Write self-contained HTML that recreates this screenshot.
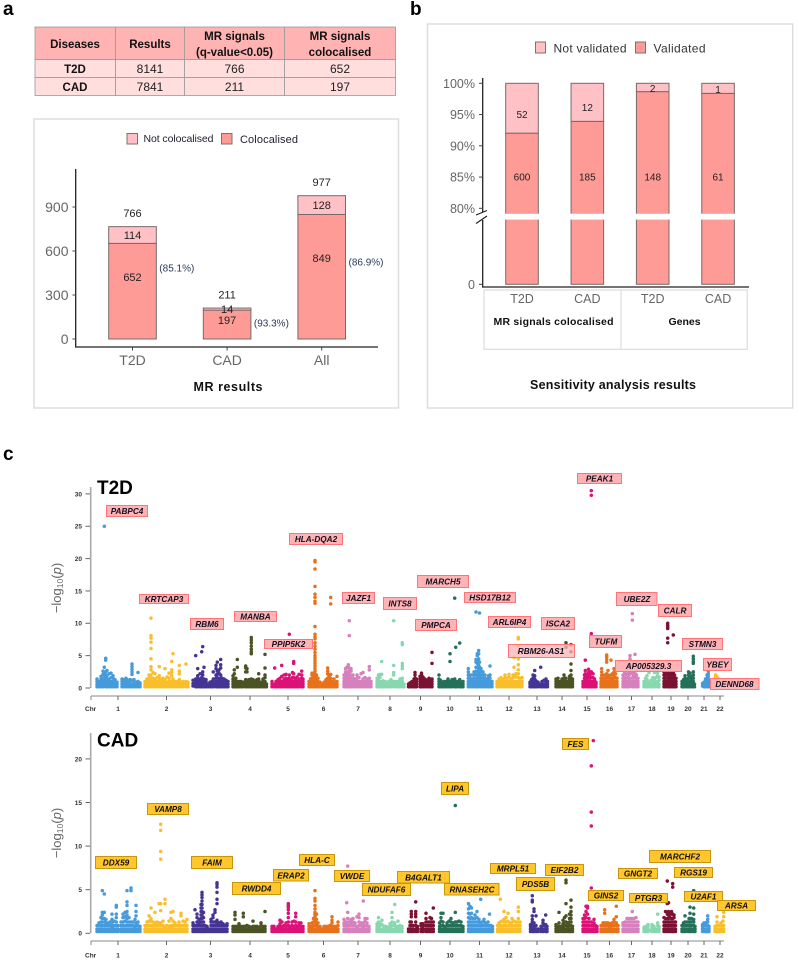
<!DOCTYPE html>
<html lang="en"><head><meta charset="utf-8"><title>MR colocalisation figure</title>
<style>
html,body{margin:0;padding:0;background:#fff}
svg{display:block;font-family:"Liberation Sans",sans-serif}
.panel{fill:#fff;stroke:#ddd;stroke-width:1.5}
.hd{fill:#ffb3b3;stroke:#999;stroke-width:.8}
.rw{fill:#ffdedd;stroke:#999;stroke-width:.8}
.tb{font-size:11.5px;font-weight:bold;fill:#111;text-anchor:middle}
.tv{font-size:12px;fill:#222;text-anchor:middle}
.pl{font-size:19px;font-weight:bold;fill:#000}
.leg{font-size:12px;fill:#333}
.ttl{font-weight:bold;fill:#111;text-anchor:middle}
.sw1{fill:#ffc1c6;stroke:#776;stroke-width:1}
.sw2{fill:#ff9b97;stroke:#776;stroke-width:1}
.t g text,.c g text{font-size:8.2px;font-weight:bold;font-style:italic;fill:#101020;text-anchor:middle}
.t rect{fill:#ffb3b5;stroke:#ff7479;stroke-width:1}
.c rect{fill:#ffc62e;stroke:#c8960a;stroke-width:1}
.hdg{font-size:19px;font-weight:bold;fill:#000}
.yt{font-size:13px;fill:#666}
.mk{font-size:6.5px;font-weight:bold;fill:#333}
</style></head><body>
<svg id="fig" xmlns="http://www.w3.org/2000/svg" width="799" height="964" viewBox="0 0 799 964">
<rect width="799" height="964" fill="#fff"/>
<text class="pl" x="3" y="15">a</text>
<text class="pl" x="410" y="15">b</text>
<text class="pl" x="3" y="460">c</text>

<g>
<rect class="hd" x="35" y="27" width="80.5" height="32.5"/><rect class="hd" x="115.5" y="27" width="69" height="32.5"/><rect class="hd" x="184.5" y="27" width="100" height="32.5"/><rect class="hd" x="284.5" y="27" width="111" height="32.5"/>
<rect class="rw" x="35" y="59.5" width="80.5" height="18"/><rect class="rw" x="115.5" y="59.5" width="69" height="18"/><rect class="rw" x="184.5" y="59.5" width="100" height="18"/><rect class="rw" x="284.5" y="59.5" width="111" height="18"/>
<rect class="rw" x="35" y="77.5" width="80.5" height="18"/><rect class="rw" x="115.5" y="77.5" width="69" height="18"/><rect class="rw" x="184.5" y="77.5" width="100" height="18"/><rect class="rw" x="284.5" y="77.5" width="111" height="18"/>
<text class="tb" x="75" y="48">Diseases</text>
<text class="tb" x="150" y="48">Results</text>
<text class="tb" x="234.5" y="40">MR signals</text>
<text class="tb" x="234.5" y="56">(q-value&lt;0.05)</text>
<text class="tb" x="340" y="40">MR signals</text>
<text class="tb" x="340" y="56">colocalised</text>
<text class="tb" x="75" y="73">T2D</text><text class="tv" x="150" y="73">8141</text><text class="tv" x="234.5" y="73">766</text><text class="tv" x="340" y="73">652</text>
<text class="tb" x="75" y="91">CAD</text><text class="tv" x="150" y="91">7841</text><text class="tv" x="234.5" y="91">211</text><text class="tv" x="340" y="91">197</text>
</g>

<rect class="panel" x="34" y="119" width="364.5" height="289"/>
<g>
<rect class="sw1" x="127" y="133.5" width="10.5" height="10.5"/>
<text x="143.5" y="142" font-size="10.5" fill="#223" textLength="70">Not colocalised</text>
<rect class="sw2" x="221.5" y="133.5" width="10.5" height="10.5"/>
<text x="240" y="143" font-size="11" fill="#223" textLength="58">Colocalised</text>
</g>
<g id="chartA"></g>
<text class="ttl" x="228" y="391" font-size="12.5" textLength="69">MR results</text>

<rect class="panel" x="427.5" y="24" width="365.2" height="384"/>
<g>
<rect class="sw1" x="535.5" y="42" width="10" height="11"/>
<text class="leg" x="553.5" y="52.5" textLength="73">Not validated</text>
<rect class="sw2" x="635.5" y="42" width="10" height="11"/>
<text class="leg" x="653.5" y="52.5" textLength="52">Validated</text>
</g>
<g id="chartB"></g>
<g fill="none" stroke="#ddd" stroke-width="1.2">
<rect x="484" y="290" width="263.3" height="59.3"/><line x1="621" y1="290" x2="621" y2="349.3"/></g>
<text class="ttl" x="553.5" y="325" font-size="10.5" textLength="120">MR signals colocalised</text>
<text class="ttl" x="684.5" y="325" font-size="10.5">Genes</text>
<text class="ttl" x="613" y="389" font-size="12.5" textLength="166">Sensitivity analysis results</text>

<g id="manhattanT2D"></g>
<g id="manhattanCAD"></g>
<text class="hdg" x="97" y="494">T2D</text>
<text class="hdg" x="97" y="746.5">CAD</text>
<text class="yt" transform="translate(61,588) rotate(-90)" text-anchor="middle">−log<tspan font-size="8.5" dy="2">10</tspan><tspan dy="-2">(</tspan><tspan font-style="italic">p</tspan>)</text>
<text class="yt" transform="translate(61,833) rotate(-90)" text-anchor="middle">−log<tspan font-size="8.5" dy="2">10</tspan><tspan dy="-2">(</tspan><tspan font-style="italic">p</tspan>)</text>

<g class="t">
<g><rect x="106.5" y="505.5" width="41" height="11"/><text x="127" y="514">PABPC4</text></g>
<g><rect x="139.5" y="594.5" width="49" height="9"/><text x="164" y="602">KRTCAP3</text></g>
<g><rect x="190.5" y="618.5" width="33" height="11"/><text x="207" y="627">RBM6</text></g>
<g><rect x="234.5" y="611.5" width="42" height="10"/><text x="255.5" y="619.5">MANBA</text></g>
<g><rect x="264.5" y="639.5" width="48" height="9"/><text x="288.5" y="647">PPIP5K2</text></g>
<g><rect x="289.5" y="533.5" width="53" height="11"/><text x="316" y="542">HLA-DQA2</text></g>
<g><rect x="342.5" y="592.5" width="32" height="11"/><text x="358.5" y="601">JAZF1</text></g>
<g><rect x="383.5" y="597.5" width="33" height="12"/><text x="400" y="606.5">INTS8</text></g>
<g><rect x="417.5" y="575.5" width="51" height="12"/><text x="443" y="584.5">MARCH5</text></g>
<g><rect x="415.5" y="619.5" width="41" height="11"/><text x="436" y="628">PMPCA</text></g>
<g><rect x="464.5" y="592.5" width="51" height="10"/><text x="490" y="600.5">HSD17B12</text></g>
<g><rect x="488.5" y="616.5" width="42" height="11"/><text x="509.5" y="625">ARL6IP4</text></g>
<g><rect x="508.5" y="644.5" width="66" height="13" fill-opacity=".75"/><text x="541" y="654">RBM26-AS1</text></g>
<g><rect x="541.5" y="617.5" width="33" height="12"/><text x="558" y="626.5">ISCA2</text></g>
<g><rect x="577.5" y="473.5" width="44" height="10"/><text x="599.5" y="481.5">PEAK1</text></g>
<g><rect x="589.5" y="635.5" width="32" height="12"/><text x="606" y="644.5">TUFM</text></g>
<g><rect x="616.5" y="592.5" width="40.5" height="13"/><text x="637" y="602">UBE2Z</text></g>
<g><rect x="658.5" y="604.5" width="33" height="12"/><text x="675" y="613.5">CALR</text></g>
<g><rect x="615.5" y="660.5" width="66" height="11"/><text x="648.5" y="669">AP005329.3</text></g>
<g><rect x="682.5" y="638.5" width="40" height="11"/><text x="702.5" y="647">STMN3</text></g>
<g><rect x="703.5" y="658.5" width="28" height="12"/><text x="717.5" y="667.5">YBEY</text></g>
<g><rect x="710.5" y="678.5" width="48.5" height="11"/><text x="734.5" y="687">DENND68</text></g>
</g>
<g class="c">
<g><rect x="95.5" y="856.5" width="41" height="12"/><text x="116" y="865.5">DDX59</text></g>
<g><rect x="147.5" y="803.5" width="41" height="11"/><text x="168" y="812">VAMP8</text></g>
<g><rect x="191.5" y="856.5" width="41" height="12"/><text x="212" y="865.5">FAIM</text></g>
<g><rect x="232.5" y="882.5" width="48" height="12"/><text x="256.5" y="891.5">RWDD4</text></g>
<g><rect x="273.5" y="869.5" width="35" height="11.5"/><text x="291" y="878.5">ERAP2</text></g>
<g><rect x="299.5" y="854.5" width="35" height="11"/><text x="317" y="863">HLA-C</text></g>
<g><rect x="334.5" y="870.5" width="35" height="11"/><text x="352" y="879">VWDE</text></g>
<g><rect x="362.5" y="883.5" width="48" height="12"/><text x="386.5" y="892.5">NDUFAF6</text></g>
<g><rect x="397.5" y="871.5" width="52" height="11.5"/><text x="423.5" y="880.5">B4GALT1</text></g>
<g><rect x="441.5" y="782.5" width="27" height="12"/><text x="455" y="791.5">LIPA</text></g>
<g><rect x="444.5" y="883.5" width="54.5" height="11.5"/><text x="472" y="892.5">RNASEH2C</text></g>
<g><rect x="490.5" y="863.5" width="45" height="10"/><text x="513" y="871.5">MRPL51</text></g>
<g><rect x="516.5" y="877.5" width="38" height="13"/><text x="535.5" y="887">PDS5B</text></g>
<g><rect x="545.5" y="864.5" width="38" height="11"/><text x="564.5" y="873">EIF2B2</text></g>
<g><rect x="562.5" y="738.5" width="26" height="11"/><text x="575.5" y="747">FES</text></g>
<g><rect x="588.5" y="890.5" width="35" height="10"/><text x="606" y="898.5">GINS2</text></g>
<g><rect x="618.5" y="868.5" width="39" height="10"/><text x="638" y="876.5">GNGT2</text></g>
<g><rect x="629.5" y="893.5" width="38" height="9"/><text x="648.5" y="901">PTGR3</text></g>
<g><rect x="649.5" y="850.5" width="61" height="12"/><text x="680" y="859.5">MARCHF2</text></g>
<g><rect x="674.5" y="867.5" width="38" height="10"/><text x="693.5" y="875.5">RGS19</text></g>
<g><rect x="684.5" y="891.5" width="38" height="10"/><text x="703.5" y="899.5">U2AF1</text></g>
<g><rect x="717.5" y="900.5" width="38" height="10"/><text x="736.5" y="908.5">ARSA</text></g>
</g>
</svg>
<script>
// ---------- Chart A data ----------
const aCategories = ['T2D','CAD','All'];
const aColocalised = [652,197,849];
const aNotColocalised = [114,14,128];
const aPercent = ['(85.1%)','(93.3%)','(86.9%)'];
const aTicks = [0,300,600,900];
// ---------- Chart B data ----------
const bCategories = ['T2D','CAD','T2D','CAD'];
const bValidated = [600,185,148,61];
const bNotValidated = [52,12,2,1];
const bTicksPct = [80,85,90,95,100];
// ---------- Manhattan shared ----------
const chrNames = ['1','2','3','4','5','6','7','8','9','10','11','12','13','14','15','16','17','18','19','20','21','22'];
const chrSpans = [49,48,40,39,37,35,33,31,31,29,29,33,26,27,18,22,21,20,18,20,13,12];
const chrMid = [22,21.5,17.5,17,16,14.5,14,13,12.5,11,11.5,12,7,6,4,8.5,8.5,8,7,6,2,5];
const chrColors = ['#459bdc','#f9bf2b','#453494','#4b5224','#dc1177','#e8711b','#d680bd','#87d8ae','#7b1233','#247059','#459bdc','#f9bf2b','#453494','#4b5224','#dc1177','#e8711b','#d680bd','#87d8ae','#7b1233','#247059','#459bdc','#f9bf2b'];
const t2dTicks = [0,5,10,15,20,25,30];
const cadTicks = [0,5,10,15,20];
// Each column: [position within chromosome, -log10(p) values...]
const t2dChr1 = [[1,.2,.6,1,1.4],[3,.2,.6,1],[5,.2,.6,1,1.4,1.8],[7,.2,.6,1,1.5,2.1,2.6],[8.3,.3,.7,1.1,1.6,2.2,3.2,25],[9.7,.2,.6,1,1.5,2,2.5,4.3,4.6],[11,.2,.6,1,1.4,1.9,2.7],[13,.2,.6,1,1.4,2.2],[15,.2,.6,1,1.6,2.3],[17,.2,.6,1,1.5,1.9],[19,.2,.6,1,1.3],[21,.2,.6,.9],[26,.2,.6,1,1.4],[28,.2,.6,1,1.3],[30,.2,.6,1.1,1.5],[32,.2,.6,1,1.2],[34,.2,.6,1,1.3],[36,.2,.6,1.2,2.1,2.5,2.9,3.3,3.7],[38,.2,.6,1,1.3],[40,.2,.6,.9],[42,.2,.6,1,2.4],[44,.2,.5,.8]];
const t2dChr2 = [[0,.2,.6,1],[2,.2,.6,1,1.4],[4,.2,.6,1,1.5,2],[6,.2,.6,1,1.5,2,2.8,3.3,4.5,6.1,7.1,7.7,8.1,10.8],[8,.2,.6,1,1.5,2.4],[10,.2,.6,1,1.4,2.2],[12,.2,.6,1,1.6],[14.3,.2,.6,1,1.4,1.9,3.3],[16,.2,.6,1,1.4],[18,.2,.6,1,1.5],[20,.2,.6,1,1.3,3],[22,.2,.6,.9,1.7],[24,.2,.6,1,1.5,2.3],[26.7,.2,.6,1,1.9,2.4,2.8,4.1],[28,.2,.6,1,1.4,5.3],[30,.2,.6,1],[32,.2,.6,1],[34.3,.2,.6,1,1.3,2.2,2.6,3.5],[36,.2,.6,.9],[38,.2,.6,1],[41,.2,.6,1,3.7],[43,.2,.6,.9]];
const t2dChr3 = [[0,.3,.7,1.2],[2.7,.2,.6,1,1.4,5],[4.7,.2,.6,1,1.5,1.9,3],[7,.2,.6,1,1.4,2.2],[8.7,.2,.6,1,1.6,5.6],[9.7,.2,.6,1.1,2,2.5,6.4],[11,.2,.6,1,1.4,3.2],[13,.2,.6,1,1.3],[15,.2,.6],[17,.2,.6,.9],[19,.2,.6,1],[20.3,.2,.6,1,1.4,2.5],[23,.2,.6,1,1.5,2,3,3.5],[24.3,.2,.6,1,1.6,2.1,2.6,4],[26,.2,.6,1,1.4,2.3,2.8],[27.7,.2,.6,1,1.5,2,3.1,3.6,4.4],[29,.2,.6,1,1.5],[31,.2,.6,1,1.4],[33,.2,.6,1,1.2],[35,.2,.6,1]];
const t2dChr4 = [[0,.2,.6,1,1.4,1.9],[1.3,.2,.6,1,1.4,2.2,2.8],[2.8,.2,.6,1,1.5],[4.3,.2,.6,1,3.2,4.4],[6,.2,.6,1],[8,.2,.6,1],[10,.2,.6,.9],[12.7,.2,.6,1,1.3,2.5,3.1,3.4],[14,.2,.6,1,1.2,2.5,3],[16,.2,.6,1,1.3],[18.3,.2,.6,1,1.4,5.3,5.6,6,6.5,7,7.4,7.8],[20,.2,.6,1,1.3],[22,.2,.6,1,1.1],[24,.2,.6,1,1.3],[25.7,.2,.6,1,1.4,2.2],[28,.2,.6,.9],[30,.2,.6,1,1.4],[32,.2,.6,1,1.6,2,3.1,5.2],[33.5,.2,.6]];
const t2dChr5 = [[0,.2,.6,1],[2.7,.2,.6,3.1],[4,.2,.6,1],[6,.2,.6,1,1.3],[8,.2,.6,1,1.5],[9.7,.2,.6,1,1.8,3.5],[12,.2,.6,1,1.4,2],[14,.2,.6,1,1.5,2.1],[15.5,.2,.6,1,1.4],[17.3,.2,.6,1,1.5,2,8.3],[19,.2,.6,1,1.3],[20.5,.2,.6,1,1.6,2.4],[21.7,.2,.6,1,1.6,2.2,3.8,4.1],[23.5,.2,.6,1,1.4],[25,.2,.6,1,1.7],[27,.2,.6,1,1.4,2.1],[29.7,.2,.6,1,1.5,2,2.6],[31,.2,.6,1,1.4]];
const t2dChr6 = [[0,.2,.6,1],[1.5,.2,.6,1,1.4],[3,.2,.6,1,1.5,2,2.3],[4.5,.2,.6,1,1.5,2],[6,.2,.6,1,1.4,1.8,2.2,2.6,3,3.4,3.8,4.2,4.6,5,5.5,6,6.5,7,7.6,7.9,8.3,9.5,13.1,13.4,14,14.5,15.7,18.4,19.5,19.7],[7.5,.2,.6,1,1.5,2],[9,.2,.6,1,1.5],[11,.2,.6,.9],[13,.2,.6],[15,.2,.6,.9],[17,.2,.6,1,1.3],[18.7,.2,.6,1,1.5,2.2,2.6,3.1],[20,.2,.6,1,1.4,1.9],[21.7,.2,.6,1,1.5,2.1,13,14],[23,.2,.6,1],[25,.2,.6,1,1.4],[27,.2,.6,.9],[28,.2,.6,1,1.8]];
const t2dChr7 = [[0,.2,.6,1,1.5,2],[1.5,.2,.6,1,1.5,2,2.5,3],[3,.2,.6,1,1.5,2,2.4,3.2],[4.3,.2,.6,1,1.5,2,2.6,3.2,3.6],[5.3,.2,.6,1,1.5,2,2.5,3.1,8.1,10.4],[7,.2,.6,1,1.5,2,2.6,3],[9,.2,.6,1,1.5,2],[11,.2,.6,1,1.4],[13,.2,.6,1,1.5,2],[15,.2,.6,1,1.6],[17,.2,.6,1,2.2],[19,.2,.6,1,1.4,2.4],[21,.2,.6,1,1.6],[23,.2,.6,1,1.4],[25.3,.2,.6,1,1.5,2.8,3.3],[27,.2,.6,1]];
const t2dChr8 = [[0,.2,.6,1,1.5],[1.5,.2,.6,1,1.5,2],[3,.2,.6,1,1.6,2.1],[4.7,.2,.6,1,2.1,4.1],[6,.2,.6,1.1],[8,.2,.6,1],[10,.2,.6,.9],[12,.2,.6,1],[14,.2,.6,1,1.3],[16.7,.2,.6,1,2,2.4,3.5,10.4],[19,.2,.6,1],[21,.2,.6,1],[23,.2,.6,1,1.4],[25.3,.2,.6,1,1.5,3,3.4,3.8,6.7,7],[27,.2,.6]];
const t2dChr9 = [[.5,.2,.6],[2,.2,.5,.8],[4,.2,.6,1],[6,.2,.6,1,1.4],[7,.2,.6,1,1.5,2,2.4],[8.5,.2,.6,1,1.4],[12,.2,.6,1,1.4,1.8],[13.5,.2,.6,1,1.5,2,2.3],[15,.2,.6,1,1.3,1.7],[17,.2,.6,1,1.4],[19,.2,.6,1,1.2],[21,.2,.6,1,1.5],[23,.2,.6,1,1.3],[24,.2,.6,1,1.4,3.8,5.5]];
const t2dChr10 = [[0,.2,.6,1,1.4,2],[1.5,.2,.6,1,1.2],[3,.2,.6,.9],[5,.2,.6,1],[7,.2,.6,1],[9,.2,.6,1,1.4],[11,.2,.6,1,4.1,5.3],[13,.2,.6,1,1.3],[15.7,.2,.6,1,1.4,13.9],[16.7,.2,.6,1,6.3],[18,.2,.6,1],[20.7,.2,.6,1,1.3,6.95],[22.5,.2,.6,.9],[24,.2,.6,1]];
const t2dChr11 = [[.3,.2,.6,1,1.5,2,2.5,3],[2,.2,.6,1,1.5,2],[4,.2,.6,1,1.4,2],[6,.2,.6,1,1.5,2,2.5],[8,.2,.6,1,1.5,2.1,2.6,3.2,4,4.4,11.75],[9.3,.2,.6,1,1.5,2,2.6,3.2,3.8,4.3,5,5.3],[10.7,.2,.6,1,1.5,2,2.5,3,3.5,4,4.5,5.3,5.8],[11.5,.3,.7,1.2,1.8,2.4,3.2,4,11.6],[13,.2,.6,1,1.5,2,2.6,3],[15,.2,.6,1,1.5,2,2.5],[17,.2,.6,1,1.5,2],[19,.2,.6,1,1.4],[20.5,.2,.6,1,1.5,1.9],[22,.2,.6,1,1.5,2,3.4],[24,.2,.6,1]];
const t2dChr12 = [[0,.2,.6,1],[2,.2,.6,1,1.4],[4,.2,.6,1,1.6],[6,.2,.6,1,1.3],[8,.2,.6,1,1.6,2],[10,.2,.6,1,1.5],[12,.2,.6,1,1.7,2.1],[14,.2,.6,1,1.4],[16,.2,.6,1,1.6,2],[17,.2,.6,1,2,3.2,4.7],[19,.2,.6,1,1.7,2.2],[21.3,.2,.6,1,1.6,2.2,2.8,3.6,4.5,5.5,6.5,7.6,7.8],[23,.2,.6,1,1.5],[25,.2,.6,1,1.6]];
const t2dChr13 = [[0,.2,.6,.9],[1.5,.2,.6,1,1.3],[3,.2,.6,1,1.5,2],[4.7,.2,.6,1,1.4,1.9,2.7],[6,.2,.6,1.1],[8,.2,.6,.9],[10.7,.2,.6,3.2],[12,.2,.6,1],[14,.2,.6,1.2],[16,.2,.6,1,1.4],[17.5,.2,.6,1]];
const t2dChr14 = [[0,.2,.6,1,1.4],[2,.2,.6,1,1.5],[4,.2,.6,1],[6,.2,.6,1,1.4],[8,.2,.6,1,1.5,2],[10,.2,.6,1,1.5,6.3,7],[12,.2,.6,1],[13.5,.2,.6,1,1.4,1.8],[15,.2,.6,1,1.5,2,2.7,3.7,5.6,6.7],[16.5,.2,.6,1,1.4]];
const t2dChr15 = [[0,.2,.6,1],[1.5,.2,.6,1,1.5,2],[2.3,.3,.7,1.2,1.7,2.2,2.7,4.3],[4,.2,.6,1,1.4,2],[5.5,.2,.6,1,1.6,2.4,2.9],[7,.2,.6,1,1.5,2,2.5],[8.3,.2,.6,1,1.6,2.5,7.2,8.4,29.8,30.5],[10,.2,.6,1,1.6,2.2],[11.5,.2,.6,1,1.4],[13,.2,.6,.9]];
const t2dChr16 = [[0,.2,.6,1,1.5],[.7,.2,.6,1,1.5,2,2.5,3],[2.5,.2,.6,1,1.5,2],[4,.2,.6,1,1.4,2],[5.7,.2,.6,1,1.6,2.2,4,4.4,4.8,5.1],[7,.2,.6,1,1.5,2,2.7],[8.5,.2,.6,1,1.6],[10,.2,.6,1,1.4,2,4.3],[11.5,.2,.6,1,1.5,2.2],[13,.2,.6,1,1.5,2,2.5,3],[14.5,.2,.6,1,1.6,2.2],[16,.2,.6,1,1.5]];
const t2dChr17 = [[0,.2,.6,1,1.5,2],[1.5,.2,.6,1,1.5,2,2.5,3],[3,.2,.6,1,1.5,2.1],[4.5,.2,.6,1,1.6,2.2,2.8],[6,.2,.6,1,1.5,2,2.6,3.2],[7,.3,.8,1.4,2.2,3,3.6,4.5,5],[9.3,.2,.6,1,1.6,2.3,2.9,3.5,10.5,11.5],[10.5,.2,.6,1,1.5,2,2.6],[12,.2,.6,1,1.6,2.2,5.2],[13.5,.2,.6,1,1.5,2,2.7],[15,.2,.6,1,1.5]];
const t2dChr18 = [[0,.2,.6,1],[1.5,.2,.6,1,1.5],[3,.2,.6,1.3,1.9],[5,.2,.6,.9,2.4],[7,.2,.6,1.2],[9,.2,.6,1,1.6],[10.5,.2,.7,1.4,2.4],[12,.3,.9,1.6],[13.5,.2,.6,1,1.9,2.4],[15,.2,.6,1.2,1.7]];
const t2dChr19 = [[0,.2,.6,1,1.5,2,2.5,3],[1.5,.2,.6,1,1.5,2,2.5,3.2],[3.7,.2,.6,1,1.5,2,2.5,3,3.5,7,7.7,9.2,9.4,9.7,10],[5,.2,.6,1,1.5,2,2.5,3],[6.5,.2,.6,1,1.5,2,2.5],[8,.2,.6,1,1.5,2,2.5,3],[9.3,.2,.6,1,1.5,2,2.4,8.2],[10.5,.2,.6,1,1.5,2],[12,.2,.6,1,1.5]];
const t2dChr20 = [[0,.2,.6,1],[1.5,.2,.6,1,1.3],[3,.2,.6,1,1.5,1.9],[5,.2,.6,1,1.4],[6.5,.2,.6,1,1.5,2,2.5],[8,.2,.6,1,1.6,2.3],[9.5,.2,.6,1,1.4,1.8],[11.3,.2,.6,1,1.5,2,2.5,3.8,4.1,4.5,4.9],[12.5,.2,.6]];
const t2dChr21 = [[.5,.3,.7],[2,.2,.6,.9],[3.5,.2,.6,1,1.4],[5,.2,.6,1,1.5,2],[6.3,.2,.6,1,1.4,1.8,2.2,2.6,3,3.4,3.8],[7.5,.2,.6,1]];
const t2dChr22 = [[.5,.5,1,1.6,2],[2,.2,.6,1.2,1.7],[4,.2,.6,1,1.4],[6,.2,.6,1],[8,.2,.6,1],[10,.2,.6]];
const cadChr1 = [[1,.2,.5,.9],[3,.2,.5,.9,1.2],[5,.2,.5,.9,1.3,1.8],[6.3,.2,.5,.9,1.3,1.7,2.1,2.4,4.9],[8.3,.2,.5,.9,1.3,1.7,2.4,4.5],[10,.2,.5,.9,1.2,1.6],[12,.2,.5,.9,1.2],[14,.2,.5,.9,1.3],[16,.2,.5,.8,1.2,1.6,2.2],[18,.2,.5,.9,1.4],[20.3,.2,.5,.9,1.3,1.8,2.2,3,3.2],[22,.2,.5,.9],[25,.2,.5,.9,1.3],[27,.2,.5,.9,1.3,1.8,2.2],[29,.2,.5,.9,1.4,1.9,2.4],[31,.2,.5,.9,1.3,1.7,2.1,2.5,3.2,3.6,4.9],[33,.2,.5,.9,1.3,1.8],[35,.2,.5,.9,1.3,4.9,5.2],[37,.2,.5,.9,1.3],[39,.2,.5,.8,1.6],[40,.2,.5,.9,1.2,2,2.5,3.2],[42,.2,.5,.9,1.3],[44,.2,.5,.8]];
const cadChr2 = [[0,.2,.5,.9],[2,.2,.5,.9,1.3],[4,.2,.5,.9,1.4,2],[6,.2,.5,.9,1.4,1.7,2.9],[8,.2,.5,.9,1.3],[10,.2,.5,.9,1.2,2.4],[12,.2,.5,.9,1.3],[14,.2,.5,.9,1.2,3.4],[15.7,.2,.5,.9,1.2,2.6,3.4,8.5,9.4,11.8,12.5],[18,.2,.5,.9,1.4],[20,.2,.5,.8,3.4,3.9],[22,.2,.5,.9],[24,.2,.5,.8,1.4],[26,.2,.5,.9,1.7,2.4],[28,.2,.5,.9,1.4,2.5],[30,.2,.5,.9,1.2],[32,.2,.5,.9],[34,.2,.5,.9,1.3],[36,.2,.5,.9,2,2.3],[38,.2,.5,.9,1.4],[40,.2,.5,.9,1.3],[42,.2,.5,.9,1.6]];
const cadChr3 = [[0,.2,.5,.9,1.2],[2,.2,.5,.9,2.7],[4,.2,.5,.9,1.3,1.8,2.2],[6,.2,.5,.9,1.2,1.6],[8,.2,.5,.9,1.3,1.7,2.1,2.5,2.9,3.3],[9,.2,.5,.9,1.3,1.7,2.1,2.5,2.9,3.3,3.7,4.1,4.4,4.7],[10.5,.2,.5,.9,1.3,1.8,2.4],[12,.2,.5,.9],[14,.2,.5,.8],[16,.2,.5],[18,.2,.5,.9,1.3,1.6],[20,.2,.5,.9,1.3,1.8,2.1],[22,.2,.5,.9,1.3,2.4,2.7],[24,.2,.5,.9,1.2,1.5,3.4,3.9,4.7,5.3,5.6,5.8],[26,.2,.5,.9,1.2],[28,.2,.5,.9,1.3],[30,.2,.5,.9,1.1],[32,.2,.5,.9],[34,.2,.5,.9,1.1]];
const cadChr4 = [[0,.2,.5,.8],[2,.2,.5,.8,1.6,2.1,2.4],[4,.2,.5,.8],[6,.2,.5,.8,1.1],[8,.2,.5,.8],[10.3,.2,.5,.8,1.9,2.3],[12,.2,.5,.8],[14,.2,.5,.9],[16,.2,.5,.8],[18,.2,.5,.7],[20,.2,.5,.8,1.4],[22,.2,.5,.8],[24,.2,.5,.8],[26,.2,.5,.7],[28,.2,.5,.9,1.2],[30,.2,.5,.8],[32,.2,.5,.8,2.5]];
const cadChr5 = [[0,.2,.5,.8],[2,.2,.5,.8],[4,.2,.5],[6,.2,.5,.8],[8,.2,.5,.8,1.1,1.5],[10,.2,.5,.8,1.3],[12,.2,.5,.9],[14,.2,.5,.8,1.2],[16.3,.2,.5,.9,1.3,1.8,2.3,2.7,3,3.2,3.4],[18,.2,.5,.8],[20,.2,.5,.9,1.3],[22,.2,.5,.8,1.4],[23.7,.2,.5,.9,1.3,1.9,2.3],[25.5,.2,.5,.8],[27,.2,.5,.9,1.2],[29,.2,.5,.8,1.2],[31,.2,.5,.8]];
const cadChr6 = [[0,.2,.5,.8,1.1],[1.5,.2,.5,.8],[3,.2,.5,.8,1.2],[4.5,.2,.5,.9,1.3,1.7],[6,.2,.5,.9,1.3,1.6,1.9,2.2,2.4,2.8,3.2,3.7,4,4.9],[7.5,.2,.5,.9,1.2,1.6,2.2],[9,.2,.5,.8,1.2],[11,.2,.5,.8],[13,.2,.5],[15,.2,.5,.8],[17,.2,.5,.8],[19,.2,.5,.8],[21,.2,.5,.9],[23,.2,.5,.8,1.2,1.5,1.9],[25,.2,.5,.8],[27,.2,.5,.8],[29,.2,.5,.9,1.3]];
const cadChr7 = [[0,.2,.5,.9,1.2,1.6],[1.5,.2,.5,.9,1.3],[2.7,.2,.5,.9,1.2,3.5],[3.7,.2,.5,.9,1.3,1.7,2.4,7.7],[5,.2,.5,.9,1.3],[7,.2,.5,.9,1.2,1.6],[9,.2,.5,.9,1.3,1.7],[11,.2,.5,.9,1.2],[13,.2,.5,.8,1.9],[15,.2,.5,.9,1.3,1.8,2.2],[17,.2,.5,.9,1.2],[19.3,.2,.5,.8,1.2,3.7],[21,.2,.5,.9,1.4,1.7],[23,.2,.5,.9,1.2,1.7],[25,.2,.5,.8]];
const cadChr8 = [[0,.2,.5,.8,1.1],[1.5,.2,.5,.8,1.3,1.8],[3,.2,.5,.9,1.2],[5,.2,.5,1,1.5],[7,.2,.5,.8],[9,.2,.5,.8],[11,.2,.5,.7],[13,.2,.5,.8,1.1],[15,.2,.5,.9,1.3,1.8,2.4],[17.7,.2,.5,.9,1.2,3.3],[19,.2,.5,.8],[21,.2,.5,.8,1.4],[23,.2,.5,.9],[25,.2,.5,.8]];
const cadChr9 = [[.5,.2,.5],[2,.2,.5,.9,1.3],[3.3,.2,.5,.9,1.3,1.9,2.2,2.5],[5,.2,.5,.9],[7.7,.2,.5,.9,1.3,1.9,2.2,2.5,3.6],[9.5,.2,.5,.8],[13,.2,.5,.9,1.1],[15,.2,.5,.8,1.1],[18,.2,.5,.9,1.3,1.7,2.3],[20,.2,.5,.9,1.3],[22,.2,.5,.9,1.3,1.8],[23.5,.2,.5,.9,1.3,1.7],[25.3,.2,.5,.9,1.3,2.9]];
const cadChr10 = [[.5,.2,.5,.8,1.2],[2,.2,.5,.9,1.4,1.8,2.3],[4,.2,.5,.9,1.3,2.3],[6,.2,.5,.8],[8,.2,.5,.9,1.2],[10,.2,.5,.9,1.4],[12,.2,.5,.9,1.3,1.7],[14,.2,.5,.9,1.2],[16.3,.2,.5,.9,1.3,2.4,14.65],[18,.2,.5,.9,1.3],[20,.2,.5,.9,1.4],[22,.2,.5,.9,1.3],[24,.2,.5,.8]];
const cadChr11 = [[.5,.2,.5,.9,1.3,1.8,2.3,2.8,3.4],[2,.2,.5,.9,1.3,1.7,2.2,3.1],[3.5,.2,.5,.9,1.3,1.8,2.3,2.9],[5,.2,.5,.9,1.3,1.7],[7,.2,.5,.9,1.3,1.7,2.1],[9,.2,.5,.9,1.3,1.8,2.5],[11,.2,.5,.9,1.3,1.6],[12.7,.2,.5,.9,1.2,3.9],[14,.2,.5,.9,1.3],[16,.2,.5,.9,1.3,1.6],[18,.2,.5,.9,1.2],[20,.2,.5,.9,1.3],[21.5,.2,.5,.9,2.2],[23,.2,.5,.9],[24.5,.2,.5,.8]];
const cadChr12 = [[.5,.2,.5,.9],[2,.2,.5,.9,1.2],[3.3,.2,.5,.9,1.3,3.9],[5,.2,.5,.9,1.4],[7,.2,.5,.9,1.3,1.6,2.5],[9,.2,.5,.9,1.3,1.8],[11,.2,.5,.9,1.4,2.3],[13,.2,.5,.9,1.2],[15,.2,.5,.9,1.3,1.7],[17,.2,.5,.9,1.4],[19,.2,.5,.9,1.3],[21.3,.2,.5,.9,1.3,1.7,2.5,3],[23,.2,.5,.9,1.3]];
const cadChr13 = [[.5,.2,.5,.8,1],[2.3,.2,.5,.9,1.3,1.6,2,3.6,3.8,4.3],[4,.2,.5,.8,1.2,2.5,2.8],[6,.2,.5,.9,2],[8,.2,.5],[11,.2,.5,.8],[13,.2,.5,.9,1.2,1.5],[15.7,.2,.5,.8,1,2.1],[17,.2,.5,.8]];
const cadChr14 = [[0,.2,.5,.8,1],[1.5,.2,.5,.8],[3,.2,.5,.8,1.2,2.4],[5,.2,.5,.8],[7,.2,.5,.8,1.1,1.5],[8.5,.2,.5,.9,1.3,1.8],[10,.2,.5,.9,1.3,2,3.4,5.8,6.1],[12,.2,.5,.8,1.2],[13.5,.2,.5,.9,1.3,1.7,2.2],[15,.2,.5,.9,1.3,1.7,2.1,2.5,3,3.8],[16.5,.2,.5,.8]];
const cadChr15 = [[0,.2,.5,.9,1.3,1.7],[1.5,.2,.5,.9,1.3,1.7,2.1],[3,.2,.5,.9,1.3,1.8,2.5,3.1],[4.5,.2,.5,.9,1.3,2.2,2.9,3.1],[6,.2,.5,.9,1.3,1.7],[8.3,.2,.5,.9,1.3,5.2,12.3,13.9,19.2],[10.3,.2,.5,.9,22.1],[11,.2,.5,.9,1.2,1.6],[12.5,.2,.5,.9],[14,.2,.5,.8]];
const cadChr16 = [[0,.2,.5,.9],[2,.2,.5,.9,1.2],[3.7,.2,.5,.9,1.2,2.3,2.7],[5.5,.2,.5,.9,1.2],[7,.2,.5,.9,1.2],[9,.2,.5,.8,1.1],[11,.2,.5,.9,1.2],[13,.2,.5,.9,1.3,1.6],[15.3,.2,.5,.9,1.2,1.9,3.1],[17,.2,.5,.9]];
const cadChr17 = [[0,.2,.5,.9,1.2],[2,.2,.5,.9,1.3],[4,.2,.5,.9,1.3,1.7],[6,.2,.5,.9,1.3,1.7],[7.5,.2,.5,.9,1.3,1.7],[9.3,.2,.5,.9,1.3,1.7,2.5],[11,.2,.5,.9,1.3,1.7],[13,.2,.5,.9,1.3,1.8],[15,.2,.5,.9,1.3]];
const cadChr18 = [[0,.2,.5,.7],[2,.2,.5,.8],[4,.2,.5,.8,1],[6,.3],[8,.2,.5,.7,1],[10,.2,.5,.8],[12,.2,.5],[13.7,.2,.5,.9,1.2,2.2],[15,.2,.5,.8]];
const cadChr19 = [[0,.2,.5,.9,1.3,1.8],[1.5,.2,.5,.9,1.3,1.7,2.5],[3.3,.2,.5,.9,1.3,1.7,2.2,3.4,6],[4.5,.2,.5,.9,1.3,1.7,2.1,2.5,3.5],[6,.2,.5,.9,1.3,1.8,2.2],[7.5,.2,.5,.9,1.3,1.7,2.2,2.5],[8.7,.2,.5,.9,1.3,1.7,2.2,5.3,5.7],[10,.2,.5,.9,1.3,1.8,2.1],[11.5,.2,.5,.9,1.3]];
const cadChr20 = [[0,.2,.5,.9],[1.5,.2,.5,.9,1.2],[3,.2,.5,.9,1.3,2],[5,.2,.5,.9,1.3],[7,.2,.5,.9,1.3,1.7],[8,.2,.5,.9,1.3,1.7,2.3,3],[9.5,.2,.5,.9,1.3,1.7],[11.7,.2,.5,.9,1.3,1.6,2.2,2.9,4.9],[13,.2,.5,.8]];
const cadChr21 = [[.5,.2,.5,.8,1],[2,.2,.5,.9,1.2],[3.5,.2,.5,.9,1.2],[5,.2,.5,.9,1.3],[5.7,.2,.5,.9,1.3,1.6,2],[7,.2,.5,.8]];
const cadChr22 = [[0,.2,.5,.8],[2,.2,.5,.9,1.3,1.9],[4,.2,.5,.9],[6,.2,.5,.9,1.2],[8,.2,.5,.9,1.4],[8.7,.2,.5,.9,1.9,2.4]];
const t2dSeries = [t2dChr1,t2dChr2,t2dChr3,t2dChr4,t2dChr5,t2dChr6,t2dChr7,t2dChr8,t2dChr9,t2dChr10,t2dChr11,t2dChr12,t2dChr13,t2dChr14,t2dChr15,t2dChr16,t2dChr17,t2dChr18,t2dChr19,t2dChr20,t2dChr21,t2dChr22];
const cadSeries = [cadChr1,cadChr2,cadChr3,cadChr4,cadChr5,cadChr6,cadChr7,cadChr8,cadChr9,cadChr10,cadChr11,cadChr12,cadChr13,cadChr14,cadChr15,cadChr16,cadChr17,cadChr18,cadChr19,cadChr20,cadChr21,cadChr22];

const NS = 'http://www.w3.org/2000/svg';
function mk(parent, tag, attrs, txt) {
  const el = document.createElementNS(NS, tag);
  for (const k in attrs) el.setAttribute(k, attrs[k]);
  if (txt !== undefined) el.textContent = txt;
  parent.appendChild(el);
  return el;
}
const STROKE = '#776a6a';
const BOT = '#ff9b97', TOP = '#ffc1c6';

// ---- Chart A ----
(function () {
  const g = document.getElementById('chartA');
  const y = v => 339 - v * 0.14667;
  const x = i => 132.5 + i * 94.6;
  const hw = 23.8;
  const pctFrac = [.74,.55,.62];
  let el = mk(g, 'line', { x1: 75.7, y1: 169, x2: 75.7, y2: 347.5, stroke: '#222', 'stroke-width': 1.3 });
  
  
  el = mk(g, 'line', { x1: 75, y1: 347, x2: 378, y2: 347, stroke: '#222', 'stroke-width': 1.3 });
  
  
  aTicks.forEach(t => {
    mk(g, 'line', { x1: 72.5, x2: 75.7, y1: y(t), y2: y(t), stroke: '#444' });
    el = mk(g, 'text', { x: 68.5, y: y(t) + 5, 'text-anchor': 'end', 'font-size': 14, fill: '#666' }, t);
    
    
  });
  aCategories.forEach((c, i) => {
    const a = aColocalised[i], b = aNotColocalised[i], cx = x(i), tot = a + b;
    mk(g, 'line', { x1: cx, x2: cx, y1: 347, y2: 350.5, stroke: '#444' });
    el = mk(g, 'rect', { x: cx - hw, y: y(a), width: 2 * hw, height: y(0) - y(a), fill: BOT, stroke: STROKE, 'stroke-width': 1 });
    
    
    el = mk(g, 'rect', { x: cx - hw, y: y(tot), width: 2 * hw, height: y(a) - y(tot), fill: TOP, stroke: STROKE, 'stroke-width': 1 });
    
    
    el = mk(g, 'text', { x: cx, y: 365, 'text-anchor': 'middle', 'font-size': 14, fill: '#666' }, c);
    
    
    const lbl = { 'text-anchor': 'middle', 'font-size': 11, fill: '#222' };
    mk(g, 'text', Object.assign({ x: cx, y: y(tot) - 9.5 }, lbl), tot);
    mk(g, 'text', Object.assign({ x: cx, y: y(a + b / 2) + 4 }, lbl), b);
    mk(g, 'text', Object.assign({ x: cx, y: y(a * 0.65) + 4 }, lbl), a);
    mk(g, 'text', { x: cx + hw + 3, y: y(a * pctFrac[i]) + 3.5, 'font-size': 10, fill: '#2a3a5a' }, aPercent[i]);
  });
})();

// ---- Chart B ----
(function () {
  const g = document.getElementById('chartB');
  const yHi = p => 83.3 + (100 - p) * 6.25;
  const y0 = 284.3, breakTop = 214.3, breakBot = 219;
  const x = i => 522 + i * 65.35;
  const hw = 16.3;
  let el = mk(g, 'path', { d: 'M482.7 78V212M482.7 220V287.5', fill: 'none', stroke: '#222', 'stroke-width': 1.3 });
  
  
  mk(g, 'path', { d: 'M476 215L487 210.5M476 223.5L487 216', fill: 'none', stroke: '#222', 'stroke-width': 1.2 });
  el = mk(g, 'line', { x1: 482, y1: 287, x2: 749, y2: 287, stroke: '#222', 'stroke-width': 1.3 });
  
  
  const tick = (yy, t) => {
    mk(g, 'line', { x1: 479, x2: 482.7, y1: yy, y2: yy, stroke: '#444' });
    const e = mk(g, 'text', { x: 475, y: yy + 4.5, 'text-anchor': 'end', 'font-size': 12.5, fill: '#666' }, t);
    
    
  };
  bTicksPct.forEach(p => tick(yHi(p), p + '%'));
  tick(y0, '0');
  bCategories.forEach((c, i) => {
    const v = bValidated[i], n = bNotValidated[i], pct = 100 * v / (v + n), cx = x(i);
    el = mk(g, 'rect', { x: cx - hw, y: yHi(pct), width: 2 * hw, height: breakTop - yHi(pct), fill: BOT, stroke: STROKE, 'stroke-width': 1 });
    
    
    el = mk(g, 'rect', { x: cx - hw, y: yHi(100), width: 2 * hw, height: yHi(pct) - yHi(100), fill: TOP, stroke: STROKE, 'stroke-width': 1 });
    
    
    el = mk(g, 'rect', { x: cx - hw, y: breakBot, width: 2 * hw, height: y0 - breakBot, fill: BOT, stroke: STROKE, 'stroke-width': 1 });
    
    
    mk(g, 'rect', { x: cx - hw - 1, y: breakTop - .6, width: 2 * hw + 2, height: breakBot - breakTop + 1.2, fill: '#fff' });
    const lbl = { x: cx, 'text-anchor': 'middle', 'font-size': 10, fill: '#222' };
    mk(g, 'text', Object.assign({ y: 180.5 }, lbl), v);
    mk(g, 'text', Object.assign({ y: yHi(100 - (100 - pct) * 0.63) + 3.5 }, lbl), n);
    el = mk(g, 'text', { x: cx, y: 303, 'text-anchor': 'middle', 'font-size': 12.5, fill: '#666' }, c);
    
    
  });
})();

// ---- Manhattan ----
function manhattan(id, series, yTicks, yZero, yUnit, yTop, xAxisY, labelY) {
  const g = document.getElementById(id);
  const y = v => yZero - v * yUnit;
  const chrStart = i => 96 + chrSpans.slice(0, i).reduce((a, b) => a + b, 0);
  let el = mk(g, 'line', { x1: 90.7, x2: 90.7, y1: yTop, y2: yZero, stroke: '#aaa', 'stroke-width': 1.6 });
  
  
  yTicks.forEach(t => {
    mk(g, 'line', { x1: 85.5, x2: 90, y1: y(t), y2: y(t), stroke: '#666', 'stroke-width': 1 });
    el = mk(g, 'text', { x: 82, y: y(t) + 2.4, 'text-anchor': 'end', class: 'mk' }, t);
    
    
  });
  el = mk(g, 'line', { x1: 91, x2: 724, y1: xAxisY, y2: xAxisY, stroke: '#888', 'stroke-width': 1 });
  
  
  mk(g, 'line', { x1: 91, x2: 91, y1: xAxisY, y2: xAxisY + 4, stroke: '#888' });
  mk(g, 'text', { x: 85, y: labelY, class: 'mk' }, 'Chr');
  chrNames.forEach((c, i) => {
    const tx = chrStart(i) + chrMid[i];
    mk(g, 'line', { x1: tx, x2: tx, y1: xAxisY, y2: xAxisY + 4, stroke: '#666' });
    el = mk(g, 'text', { x: tx, y: labelY, 'text-anchor': 'middle', class: 'mk' }, c);
    
    
  });
  series.forEach((cols, i) => {
    const s = chrStart(i);
    cols.forEach(col => {
      for (let k = 1; k < col.length; k++) {
        const d = mk(g, 'circle', { cx: s + col[0], cy: y(col[k]), r: 1.75, fill: chrColors[i] });
        
        
      }
    });
  });
}
manhattan('manhattanT2D', t2dSeries, t2dTicks, 688, 6.47, 487, 696, 711);
manhattan('manhattanCAD', cadSeries, cadTicks, 933.3, 8.72, 733, 941, 957.5);
</script>
</body></html>
